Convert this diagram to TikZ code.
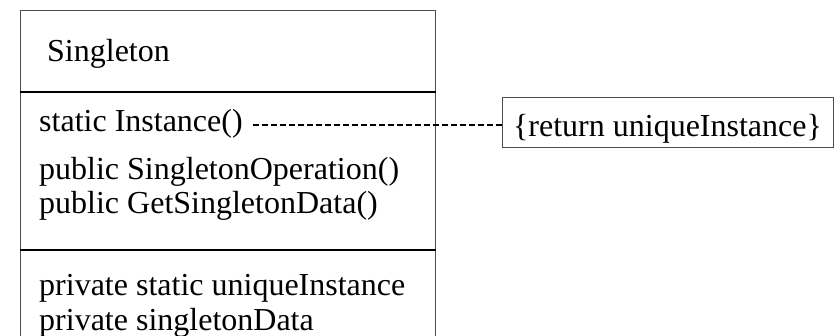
\documentclass[tikz,border=0pt]{standalone}
\usepackage{fontspec}
\setmainfont{Liberation Serif}
\begin{document}
\begin{tikzpicture}[x=1pt,y=-1pt,
  txt/.style={anchor=base west, inner sep=0pt, font=\fontsize{32}{34}\selectfont},
  border/.style={draw=black!70, line width=1pt},
  divider/.style={draw=black, line width=1.8pt},
  noteline/.style={draw=black, line width=1.4pt, dash pattern=on 6pt off 3pt}]
\path[use as bounding box, clip] (0,0) rectangle (837,336);
\node[border, inner sep=0pt, minimum width=415.5pt, minimum height=345pt, anchor=north west] (cls) at (19.5,10) {};
\draw[divider] (cls.west |- 0,92) -- (cls.east |- 0,92);
\draw[divider] (cls.west |- 0,250) -- (cls.east |- 0,250);
\node[txt] (name) at (47,62) {Singleton};
\node[txt] (inst) at (39,132) {static Instance()};
\node[txt] (op) at (39,180) {public SingletonOperation()};
\node[txt] (get) at (39,214) {public GetSingletonData()};
\node[txt] (uniq) at (39,296) {private static uniqueInstance};
\node[txt] (data) at (39,330) {private singletonData};
\node[border, inner sep=0pt, minimum width=331pt, text height=39pt, text depth=11pt, anchor=base, font=\fontsize{32}{34}\selectfont] (note) at (667.5,137) {\{return uniqueInstance\}};
\coordinate (dstart) at (253,125);
\draw[noteline] (dstart) -- (dstart -| note.west);
\end{tikzpicture}
\end{document}
